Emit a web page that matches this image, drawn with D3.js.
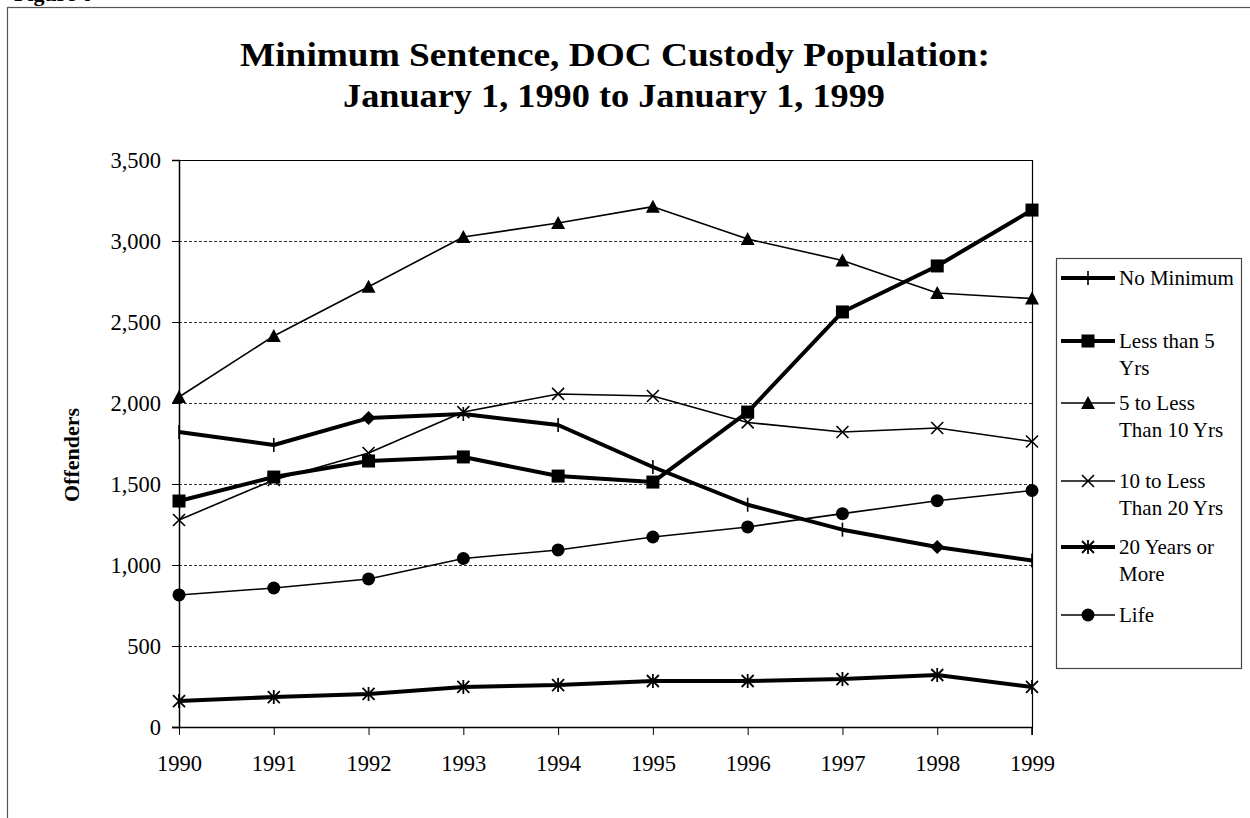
<!DOCTYPE html>
<html><head><meta charset="utf-8">
<script src="https://cdn.jsdelivr.net/npm/d3@7/dist/d3.min.js"></script>
<style>body{margin:0;background:#fff}svg{display:block}text{font-family:"Liberation Serif","Times New Roman",serif;fill:#000}</style>
</head><body><svg id="c" width="1250" height="818"></svg>
<script>
const years = [1990,1991,1992,1993,1994,1995,1996,1997,1998,1999];
const yTicks = [0,500,1000,1500,2000,2500,3000,3500];
const noMinimum = [1821,1741,1907,1932,1864,1605,1372,1218,1111,1028];
const lessThan5 = [1395,1543,1642,1667,1549,1512,1944,2562,2846,3191];
const fiveTo10 = [2037,2414,2718,3025,3111,3212,3012,2880,2679,2645];
const tenTo20 = [1278,1525,1691,1944,2056,2043,1880,1821,1846,1762];
const twentyPlus = [160,185,204,247,259,284,284,296,321,247];
const life = [815,858,914,1040,1093,1173,1235,1317,1397,1460];
const noMinMarkers = ["plus","plus","diamond","plus","plus","plus","plus","plus","diamond","plus"];
const seriesNames = [["No Minimum"],["Less than 5","Yrs"],["5 to Less","Than 10 Yrs"],["10 to Less","Than 20 Yrs"],["20 Years or","More"],["Life"]];

const series = [
  {name:seriesNames[0], values:noMinimum, marker:"plus", markers:noMinMarkers, w:4},
  {name:seriesNames[1], values:lessThan5, marker:"square", w:4},
  {name:seriesNames[2], values:fiveTo10, marker:"triangle", w:1.6},
  {name:seriesNames[3], values:tenTo20, marker:"x", w:1.6},
  {name:seriesNames[4], values:twentyPlus, marker:"asterisk", w:4},
  {name:seriesNames[5], values:life, marker:"circle", w:1.6}
];

const svg = d3.select("#c");
const L=179, R=1032, T=160, B=727;
const x = d3.scalePoint().domain(years).range([L,R]);
const y = d3.scaleLinear().domain([0,3500]).range([B,T]);

// outer frame
svg.append("rect").attr("x",7.5).attr("y",7.5).attr("width",1300).attr("height",900)
  .attr("fill","none").attr("stroke","#555").attr("stroke-width",1.2);
svg.append("text").attr("x",14).attr("y",1).attr("font-weight","bold").attr("font-size",22).text("Figure 6");

// title
svg.append("text").attr("x",615).attr("y",66).attr("text-anchor","middle").attr("font-weight","bold").attr("font-size",34)
  .attr("textLength",750).attr("lengthAdjust","spacingAndGlyphs").text("Minimum Sentence, DOC Custody Population:");
svg.append("text").attr("x",614).attr("y",107).attr("text-anchor","middle").attr("font-weight","bold").attr("font-size",34)
  .attr("textLength",542).attr("lengthAdjust","spacingAndGlyphs").text("January 1, 1990 to January 1, 1999");

// gridlines
svg.append("g").selectAll("line").data(yTicks.filter(d=>d>0&&d<3500)).join("line")
  .attr("x1",L).attr("x2",R).attr("y1",d=>y(d)+0.5).attr("y2",d=>y(d)+0.5)
  .attr("stroke","#333").attr("stroke-width",1).attr("stroke-dasharray","3,2");
// plot border top/right
svg.append("path").attr("d",`M${L},${T+0.5}H${R+0.5}V${B}`).attr("fill","none").attr("stroke","#000").attr("stroke-width",1.2);

// y axis
const yAxis = svg.append("g").attr("transform",`translate(${L},0)`)
  .call(d3.axisLeft(y).tickValues(yTicks).tickSize(7).tickPadding(11).tickFormat(d3.format(",")));
yAxis.select(".domain").attr("stroke","#000").attr("stroke-width",1.5);
yAxis.selectAll("text").attr("font-size",22.5);
// x axis
const xAxis = svg.append("g").attr("transform",`translate(0,${B})`)
  .call(d3.axisBottom(x).tickSize(8).tickPadding(20));
xAxis.select(".domain").attr("d",`M${L-7},0.5H${R}V8`).attr("stroke","#000").attr("stroke-width",1.5);
xAxis.selectAll(".tick line").attr("stroke","#000");
xAxis.selectAll("text").attr("font-size",22.5);

svg.append("text").attr("transform","translate(79,455) rotate(-90)").attr("text-anchor","middle")
  .attr("font-weight","bold").attr("font-size",22).text("Offenders");

function drawMarker(g, type, cx, cy){
  const s=6.5;
  if(type==="square") g.append("rect").attr("x",cx-s).attr("y",cy-s).attr("width",2*s).attr("height",2*s).attr("fill","#000");
  else if(type==="triangle") g.append("path").attr("d",`M${cx},${cy-7}L${cx+7},${cy+6}L${cx-7},${cy+6}Z`).attr("fill","#000");
  else if(type==="circle") g.append("circle").attr("cx",cx).attr("cy",cy).attr("r",6.5).attr("fill","#000");
  else if(type==="diamond") g.append("path").attr("d",`M${cx},${cy-7}L${cx+7},${cy}L${cx},${cy+7}L${cx-7},${cy}Z`).attr("fill","#000");
  else if(type==="x") g.append("path").attr("d",`M${cx-6},${cy-6}L${cx+6},${cy+6}M${cx+6},${cy-6}L${cx-6},${cy+6}`).attr("stroke","#000").attr("stroke-width",1.6);
  else if(type==="plus") g.append("path").attr("d",`M${cx},${cy-7}V${cy+7}`).attr("stroke","#000").attr("stroke-width",1.6);
  else if(type==="asterisk") g.append("path").attr("d",`M${cx-6},${cy-6}L${cx+6},${cy+6}M${cx+6},${cy-6}L${cx-6},${cy+6}M${cx},${cy-7}V${cy+7}`).attr("stroke","#000").attr("stroke-width",1.8);
}

const line = d3.line().x((d,i)=>x(years[i])).y(d=>y(d));
series.forEach(s=>{
  const g = svg.append("g");
  g.append("path").attr("d",line(s.values)).attr("fill","none").attr("stroke","#000").attr("stroke-width",s.w).attr("stroke-linejoin","round");
  s.values.forEach((v,i)=>drawMarker(g, s.markers?s.markers[i]:s.marker, x(years[i]), y(v)));
});

// legend
const lg = svg.append("g");
lg.append("rect").attr("x",1056.5).attr("y",258.5).attr("width",185).attr("height",410).attr("fill","#fff").attr("stroke","#444").attr("stroke-width",1.2);
const legY = [278,341,403,481,547,615];
series.forEach((s,i)=>{
  const yy = legY[i];
  lg.append("line").attr("x1",1061).attr("x2",1115).attr("y1",yy).attr("y2",yy).attr("stroke","#000").attr("stroke-width",s.w);
  drawMarker(lg, s.marker, 1088, yy);
  s.name.forEach((t,j)=>lg.append("text").attr("x",1119).attr("y",yy+7+j*27).attr("font-size",21).text(t));
});
</script></body></html>
